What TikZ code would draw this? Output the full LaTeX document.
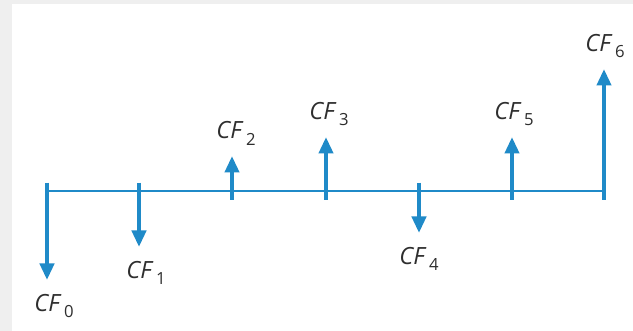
\documentclass[tikz,border=0pt]{standalone}
\usepackage{fontspec}
\setmainfont{Open Sans}
\usetikzlibrary{arrows.meta,positioning}
\definecolor{flowblue}{HTML}{1F8AC8}
\definecolor{labelgray}{HTML}{2E2E2E}
\definecolor{framegray}{HTML}{EFEFEF}
\tikzset{timeline/.style={flowblue,line width=1.2pt},tickmark/.style={flowblue,line width=1.9pt},cashflow/.style={flowblue,line width=2.3pt,-{Triangle[length=3.3mm,width=2.8mm]}},cflabel/.style={font=\fontsize{13.5}{15}\selectfont,text=labelgray,inner sep=0pt}}
\newcommand{\cfname}[1]{\textit{CF}\kern1.5pt\raisebox{-0.5ex}{\fontsize{9.5}{10}\selectfont #1}}

\begin{document}
\begin{tikzpicture}[x=0.02cm,y=0.02cm]
\fill[framegray] (0,0) rectangle (633,331);
\fill[white] (12,0) rectangle (633,327);
\useasboundingbox (0,0) rectangle (633,331);
% time axis and ticks
\coordinate (a0) at (47,140);
\coordinate (a6) at (604,140);
\draw[timeline] (a0)--(a6);
\foreach \k/\x in {0/47,1/139,2/232,3/326,4/419,5/512,6/604}{
  \coordinate (top\k) at (\x,148);
  \coordinate (bot\k) at (\x,131);
  \draw[tickmark] (top\k)--(bot\k);}
% outflows
\foreach \k/\x/\tip/\dx in {0/47/51/7,1/139/84/7,4/419/98/0}{
  \coordinate (tip\k) at (\x,\tip);
  \draw[cashflow] (top\k)--(tip\k);
  \node[cflabel,below=8pt of tip\k,xshift=\dx*0.02cm] (cf\k) {\cfname{\k}};}
% inflows
\foreach \k/\x/\tip/\dx in {2/232/175/4,3/326/194/3,5/512/194/2,6/604/262/1}{
  \coordinate (tip\k) at (\x,\tip);
  \draw[cashflow] (bot\k)--(tip\k);
  \node[cflabel,above=6pt of tip\k,xshift=\dx*0.02cm] (cf\k) {\cfname{\k}};}
\end{tikzpicture}
\end{document}
